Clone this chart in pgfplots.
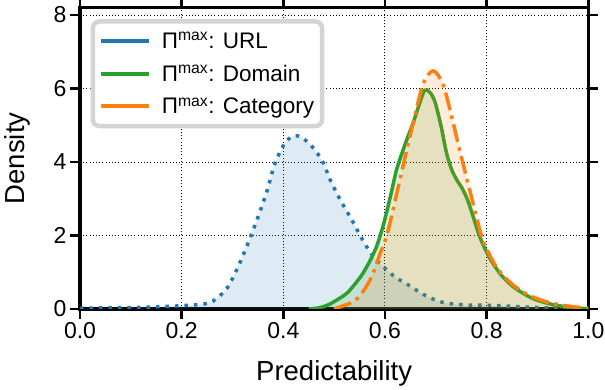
\documentclass[border=0pt]{standalone}
\usepackage{fontspec}
\setmainfont{Liberation Sans}
\usepackage{pgfplots}
\pgfplotsset{compat=1.18}
\definecolor{cblue}{HTML}{1F77B4}
\definecolor{cgreen}{HTML}{2CA02C}
\definecolor{corange}{HTML}{FF7F0E}
\definecolor{lgray}{HTML}{D4D4D4}
\begin{document}
\begin{tikzpicture}
\begin{axis}[
  scale only axis,
  width=508.3pt, height=301.3pt,
  xmin=0, xmax=1, ymin=0, ymax=8.2,
  xtick={0,0.2,0.4,0.6,0.8,1.0},
  ytick={0,2,4,6,8},
  /pgf/number format/assume math mode=true,
  xticklabel style={/pgf/number format/fixed,/pgf/number format/fixed zerofill,/pgf/number format/precision=1},
  tick label style={font=\fontsize{23}{27}\selectfont},
  tick align=outside,
  major tick length=10pt,
  every tick/.style={black, line width=2.5pt},
  axis line style={line width=3.3pt},
  grid=major,
  major grid style={black, line width=1pt, dash pattern=on 1pt off 2.2pt},
  xlabel={Predictability},
  ylabel={Density},
  label style={font=\fontsize{27.5}{32}\selectfont},
  xlabel style={at={(axis description cs:0.5,-0.2125)}, anchor=center},
  ylabel style={at={(axis description cs:-0.124,0.5)}, anchor=center},
  legend cell align=left,
  legend style={at={(0.0207,0.962)}, anchor=north west, draw=lgray, line width=4.5pt,
    rounded corners=7pt, fill=white, font=\fontsize{22.5}{26}\selectfont,
    row sep=11pt, inner xsep=6pt, inner ysep=9pt,
    /tikz/every odd column/.append style={column sep=9pt}},
  legend image code/.code={\draw[#1, solid, line width=4pt] (0pt,0pt) -- (48pt,0pt);},
]
% URL
\addplot[smooth, draw=none, fill=cblue, fill opacity=0.15, forget plot] coordinates {
(0.00,0.02) (0.05,0.03) (0.10,0.04) (0.15,0.06) (0.20,0.09) (0.25,0.15) (0.27,0.30) (0.29,0.58)
(0.306,1.00) (0.325,1.60) (0.348,2.42) (0.368,3.22) (0.384,3.98) (0.405,4.55) (0.425,4.72)
(0.45,4.52) (0.476,4.05) (0.492,3.52) (0.512,2.97) (0.535,2.42) (0.554,1.93) (0.577,1.43)
(0.607,1.02) (0.623,0.84) (0.643,0.68) (0.675,0.40) (0.70,0.24) (0.721,0.16) (0.76,0.11)
(0.806,0.10) (0.84,0.08) (0.87,0.06) (0.90,0.04) (0.95,0.02) (1.00,0.01)} \closedcycle;
\addplot[smooth, cblue, line width=3.5pt, dash pattern=on 3.5pt off 6pt] coordinates {
(0.00,0.02) (0.05,0.03) (0.10,0.04) (0.15,0.06) (0.20,0.09) (0.25,0.15) (0.27,0.30) (0.29,0.58)
(0.306,1.00) (0.325,1.60) (0.348,2.42) (0.368,3.22) (0.384,3.98) (0.405,4.55) (0.425,4.72)
(0.45,4.52) (0.476,4.05) (0.492,3.52) (0.512,2.97) (0.535,2.42) (0.554,1.93) (0.577,1.43)
(0.607,1.02) (0.623,0.84) (0.643,0.68) (0.675,0.40) (0.70,0.24) (0.721,0.16) (0.76,0.11)
(0.806,0.10) (0.84,0.08) (0.87,0.06) (0.90,0.04) (0.95,0.02) (1.00,0.01)};
\addlegendentry{Π\textsuperscript{max}: URL}
% Domain
\addplot[smooth, draw=none, fill=cgreen, fill opacity=0.15, forget plot] coordinates {
(0.45,0.0) (0.47,0.03) (0.486,0.10) (0.50,0.20) (0.525,0.43) (0.545,0.75) (0.557,0.98)
(0.572,1.35) (0.584,1.72) (0.595,2.2) (0.603,2.62) (0.613,3.2) (0.623,3.8) (0.64,4.5)
(0.655,5.05) (0.667,5.55) (0.678,5.95) (0.688,5.90) (0.698,5.65) (0.71,5.0) (0.721,4.25)
(0.731,3.8) (0.741,3.52) (0.752,3.28) (0.763,2.95) (0.775,2.45) (0.786,1.98) (0.80,1.55)
(0.812,1.25) (0.83,0.9) (0.852,0.61) (0.875,0.4) (0.897,0.25) (0.93,0.12) (0.956,0.06)
(0.98,0.02) (1.0,0.0)} \closedcycle;
\addplot[smooth, cgreen, line width=3.5pt] coordinates {
(0.45,0.0) (0.47,0.03) (0.486,0.10) (0.50,0.20) (0.525,0.43) (0.545,0.75) (0.557,0.98)
(0.572,1.35) (0.584,1.72) (0.595,2.2) (0.603,2.62) (0.613,3.2) (0.623,3.8) (0.64,4.5)
(0.655,5.05) (0.667,5.55) (0.678,5.95) (0.688,5.90) (0.698,5.65) (0.71,5.0) (0.721,4.25)
(0.731,3.8) (0.741,3.52) (0.752,3.28) (0.763,2.95) (0.775,2.45) (0.786,1.98) (0.80,1.55)
(0.812,1.25) (0.83,0.9) (0.852,0.61) (0.875,0.4) (0.897,0.25) (0.93,0.12) (0.956,0.06)
(0.98,0.02) (1.0,0.0)};
\addlegendentry{Π\textsuperscript{max}: Domain}
% Category
\addplot[smooth, draw=none, fill=corange, fill opacity=0.15, forget plot] coordinates {
(0.50,0.0) (0.512,0.06) (0.53,0.15) (0.544,0.27) (0.558,0.5) (0.571,0.8) (0.58,1.1)
(0.590,1.5) (0.60,1.85) (0.61,2.35) (0.629,3.5) (0.652,4.87) (0.675,6.12) (0.695,6.48)
(0.714,6.12) (0.731,5.25) (0.747,4.32) (0.767,3.22) (0.79,1.98) (0.805,1.5) (0.819,1.15)
(0.84,0.8) (0.865,0.52) (0.89,0.33) (0.917,0.2) (0.95,0.1) (0.982,0.04) (1.0,0.02)} \closedcycle;
\addplot[smooth, corange, line width=3.5pt, dash pattern=on 18pt off 5.6pt on 3.5pt off 5.6pt] coordinates {
(0.50,0.0) (0.512,0.06) (0.53,0.15) (0.544,0.27) (0.558,0.5) (0.571,0.8) (0.58,1.1)
(0.590,1.5) (0.60,1.85) (0.61,2.35) (0.629,3.5) (0.652,4.87) (0.675,6.12) (0.695,6.48)
(0.714,6.12) (0.731,5.25) (0.747,4.32) (0.767,3.22) (0.79,1.98) (0.805,1.5) (0.819,1.15)
(0.84,0.8) (0.865,0.52) (0.89,0.33) (0.917,0.2) (0.95,0.1) (0.982,0.04) (1.0,0.02)};
\addlegendentry{Π\textsuperscript{max}: Category}
\end{axis}
\pgfresetboundingbox
\path ([shift={(-80pt,-81pt)}]current axis.south west) rectangle ([shift={(16.7pt,7.7pt)}]current axis.north east);
\end{tikzpicture}
\end{document}
